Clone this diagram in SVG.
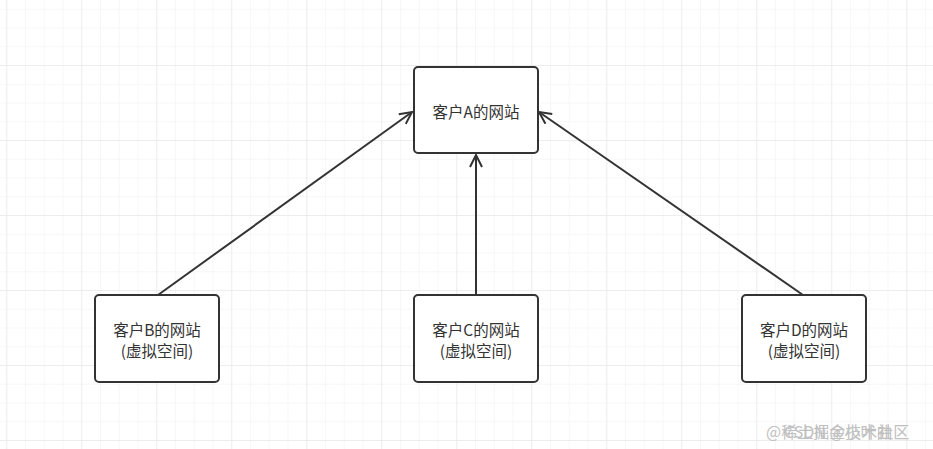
<svg xmlns="http://www.w3.org/2000/svg" width="933" height="449" viewBox="0 0 933 449">
<defs>
<pattern id="minor" width="18.75" height="18.75" patternUnits="userSpaceOnUse" x="6.25" y="8.75">
<path d="M0 0H18.75M0 0V18.75" fill="none" stroke="#f0f0f0" stroke-width="1"/>
</pattern>
<pattern id="major" width="75" height="75" patternUnits="userSpaceOnUse" x="6.25" y="-10">
<path d="M0 0H75M0 0V75" fill="none" stroke="#e4e4e4" stroke-width="1"/>
</pattern>
<marker id="arr" viewBox="0 0 14 14" refX="13" refY="7" markerWidth="14" markerHeight="14" markerUnits="userSpaceOnUse" orient="auto">
<path d="M1 1L13 7L1 13" fill="none" stroke="#333" stroke-width="2"/>
</marker>
</defs>
<style>
.box{fill:#fff;stroke:#333;stroke-width:2}
.lbl{font-family:"Noto Sans CJK SC","Noto Sans",sans-serif;font-size:15.5px;fill:#333;text-anchor:middle}
.edge{fill:none;stroke:#333;stroke-width:2;marker-end:url(#arr)}
.wm{font-family:"Noto Sans CJK SC","Noto Sans",sans-serif;font-size:16px;fill:#c0c0c0}
</style>
<rect width="933" height="449" fill="#fff"/>
<rect width="933" height="449" fill="url(#minor)"/>
<rect width="933" height="449" fill="url(#major)"/>
<g id="connectors">
<path class="edge" d="M158 295L412 112"/>
<path class="edge" d="M476 295L476 155"/>
<path class="edge" d="M803 295L539 112"/>
</g>
<g id="nodeA">
<rect class="box" x="414" y="67" width="124" height="86" rx="4"/>
<text class="lbl" x="476" y="117.5">客户A的网站</text>
</g>
<g id="nodeB">
<rect class="box" x="95" y="295" width="124" height="87" rx="4"/>
<text class="lbl" x="157" y="335.5">客户B的网站</text>
<text class="lbl" x="157" y="357">(虚拟空间)</text>
</g>
<g id="nodeC">
<rect class="box" x="414" y="295" width="124" height="87" rx="4"/>
<text class="lbl" x="476" y="335.5">客户C的网站</text>
<text class="lbl" x="476" y="357">(虚拟空间)</text>
</g>
<g id="nodeD">
<rect class="box" x="742" y="295" width="124" height="87" rx="4"/>
<text class="lbl" x="804" y="335.5">客户D的网站</text>
<text class="lbl" x="804" y="357">(虚拟空间)</text>
</g>
<g id="watermark">
<text class="wm" x="766" y="438">@稀土掘金技术社区</text>
<text class="wm" x="784" y="438">CSDN @小叶曲</text>
</g>
</svg>
